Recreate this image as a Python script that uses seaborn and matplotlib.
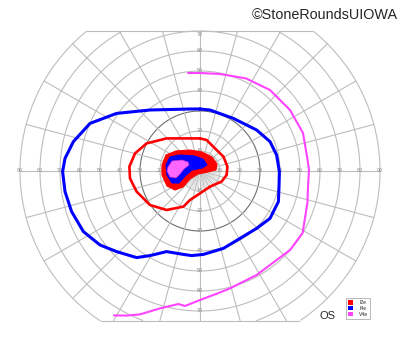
import numpy as np
import matplotlib.pyplot as plt
import matplotlib.patches as mpatches
import seaborn as sns

# isopters, in degrees (x = temporal/nasal, y = superior/inferior)
v4e_x = [-6, 0, 10, 23, 35, 45, 51.5, 53.8, 54.5, 54, 53.7, 51.3, 45, 35, 28.3, 21.7, 15, 8, 0, -7.5, -10.8, -20, -30, -36.7, -43]
v4e_y = [49, 49, 48.5, 46.3, 40.5, 30.5, 19, 5.5, 0.5, -8, -16, -31, -39.5, -47, -52, -55.3, -58.7, -61.5, -64.5, -67.5, -66.5, -68.7, -71.7, -72.3, -72.2]

i4e_x = [0, 5, 16.7, 28.3, 35, 38.3, 39.7, 39.5, 39.2, 35, 28.3, 20, 11.7, 1.7, -4.2, -8.3, -16.7, -25, -31.7, -41.7, -50, -58.3, -64.2, -67.5, -68.7, -67.5, -63.3, -55, -41.7, -25, -5, 0]
i4e_y = [31, 30.5, 26.3, 20.5, 14.7, 8, -0.3, -8, -15.3, -23.7, -28.7, -33.7, -38.7, -41.7, -42.3, -41.7, -40.3, -42.3, -43.3, -40.3, -37, -30.3, -20.3, -10.3, -0.3, 6.3, 14.7, 23.8, 28.8, 30.5, 31, 31]

i2e_x = [0, 3.3, 8.3, 11.7, 13.7, 13.3, 10.8, 5, 0, -5, -8.3, -16.7, -25, -31.7, -35, -35.3, -32.5, -26.7, -16.7, -5, 0]
i2e_y = [16.3, 15.5, 10.5, 7.2, 2.2, -2, -5.3, -7.8, -11.2, -14.5, -17.8, -19.5, -17, -10.3, -3.7, 2.2, 8.8, 13.8, 16.3, 16.3, 16.3]

# filled central areas
red_fill_x = [-19, -17, -12, -5, 1, 6, 8.5, 8, 4, -1, -5, -8.5, -12.5, -16.5, -19]
red_fill_y = [3, 8, 10, 10.5, 9.5, 7, 3.5, 0.5, -0.5, -1.5, -4, -8, -9.5, -7.5, -2]
blue_fill_x = [-17, -15, -10, -3, 1.5, 3.5, 1, -4, -7.5, -10.5, -14, -16.5]
blue_fill_y = [3, 7, 8, 7.5, 6, 3, 1.5, 0.5, -2.5, -6, -6, -2]
mag_fill_x = [-16, -14, -9, -6, -5.5, -8, -10, -12, -15, -16.5]
mag_fill_y = [2, 5, 5.5, 4.5, 3, 1, -1.5, -3.5, -3, 0]

rings = [10, 20, 30, 40, 50, 60, 70, 80, 90]
meridians = np.arange(0, 360, 15)
legend_labels = ['I2e', 'I4e', 'V4e']
colors = ['#ff0000', '#0000ff', '#ff44ff']

sns.set_style('white')
plt.rcParams['font.family'] = ['Liberation Sans', 'DejaVu Sans']

fig = plt.figure(figsize=(4, 3.52), dpi=100)
ax = fig.add_axes([0, 0, 1, 1])
ax.set_xlim(-100, 100)
ax.set_ylim(-90.5, 85.5)
ax.axis('off')

top, bottom = 70, -75
band = mpatches.Rectangle((-100, bottom), 200, top - bottom, transform=ax.transData, visible=False)
ax.add_patch(band)

grid_c = '#bdbdbd'
t = np.linspace(0, 2 * np.pi, 400)
for r in rings:
    xs, ys = r * np.cos(t), r * np.sin(t)
    ys = np.where((ys > top) | (ys < bottom), np.nan, ys)
    ax.plot(xs, ys, color='#6e6e6e' if r == 30 else grid_c, lw=0.8, zorder=2)
for a in meridians:
    ang = np.deg2rad(a)
    x1, y1 = 90 * np.cos(ang), 90 * np.sin(ang)
    ln, = ax.plot([0, x1], [0, y1], color=grid_c, lw=0.8, zorder=2)
    ln.set_clip_path(band)
for a in np.arange(0, 360, 5):
    if a % 15:
        ang = np.deg2rad(a)
        ax.plot([3 * np.cos(ang), 10 * np.cos(ang)], [3 * np.sin(ang), 10 * np.sin(ang)],
                color='#d0d0d0', lw=0.5, zorder=2)
xt = np.sqrt(90 ** 2 - top ** 2)
xb = np.sqrt(90 ** 2 - bottom ** 2)
ax.plot([-xt, xt], [top, top], color=grid_c, lw=0.8, zorder=2)
ax.plot([-xb, xb], [bottom, bottom], color=grid_c, lw=0.8, zorder=2)

lab = dict(fontsize=3.8, color='#8a8a8a', ha='center', va='center', zorder=3)
for r in rings:
    ax.text(r, 0, str(r), **lab)
    ax.text(-r, 0, str(r), **lab)
    if r <= 70:
        ax.text(0, min(r, 68), str(r), **lab)
        ax.text(0, -r, str(r), **lab)

ax.fill(red_fill_x, red_fill_y, facecolor=colors[0], edgecolor=colors[0], lw=0.8, zorder=3.5)
ax.fill(blue_fill_x, blue_fill_y, facecolor=colors[1], edgecolor=colors[1], lw=0.8, zorder=3.6)
ax.fill(mag_fill_x, mag_fill_y, facecolor='#ff66ff', edgecolor='#cc33cc', lw=0.5, zorder=3.7)

line_kw = dict(sort=False, estimator=None, ax=ax, zorder=4,
               solid_joinstyle='round', solid_capstyle='round')
sns.lineplot(x=v4e_x, y=v4e_y, color=colors[2], lw=1.5, **line_kw)
sns.lineplot(x=i4e_x, y=i4e_y, color=colors[1], lw=2.2, **line_kw)
sns.lineplot(x=i2e_x, y=i2e_y, color=colors[0], lw=1.9, **line_kw)

handles = [mpatches.Patch(facecolor=c, edgecolor='none') for c in colors]
leg = ax.legend(handles, legend_labels, loc='lower right', bbox_to_anchor=(0.932, 0.088),
                fontsize=3.6, frameon=True, fancybox=False, handlelength=1.0, handleheight=1.0,
                handletextpad=1.2, borderpad=0.4, labelspacing=0.15, edgecolor='#999999')
leg.get_frame().set_linewidth(0.6)

fig.text(328 / 400, 1 - 316 / 352, 'OS', fontsize=8, ha='center', va='center')
fig.text(0.995, 0.978, '\u00a9StoneRoundsUIOWA', fontsize=10.4, ha='right', va='top')

fig.savefig('out.png', dpi=100)
